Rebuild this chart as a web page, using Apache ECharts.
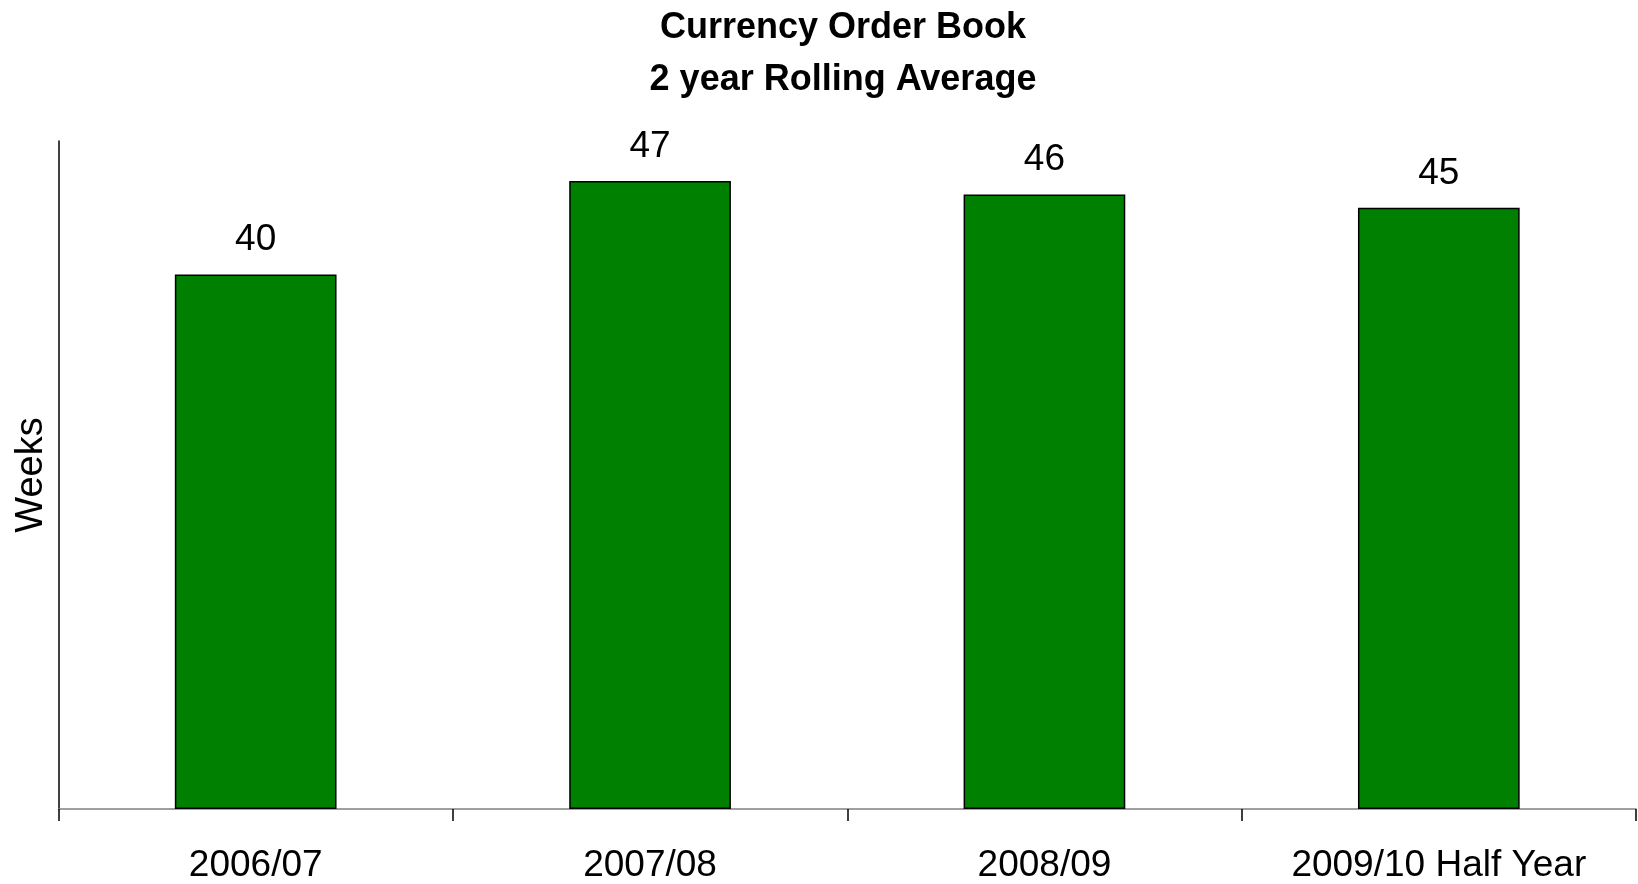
<!DOCTYPE html>
<html>
<head>
<meta charset="utf-8">
<title>Currency Order Book</title>
<script src="https://cdn.jsdelivr.net/npm/echarts@6/dist/echarts.min.js"></script>
<style>
  html, body { margin: 0; padding: 0; background: #ffffff; }
  #chart { width: 1638px; height: 884px; }
</style>
</head>
<body>
<div id="chart"></div>
<script>
// Order book length (weeks), two-year rolling average per financial year
const categories = ['2006/07', '2007/08', '2008/09', '2009/10 Half Year'];
const weeks = [40, 47, 46, 45];
const titleLines = ['Currency Order Book', '2 year Rolling Average'];
const yAxisName = 'Weeks';

const FONT = '"Liberation Sans", Arial, Helvetica, sans-serif';

const chart = echarts.init(document.getElementById('chart'), null, { renderer: 'canvas' });

chart.setOption({
  backgroundColor: '#ffffff',
  animation: false,
  // two-line heading, centred a little right of the page middle
  graphic: [{
    type: 'text',
    left: null,
    style: {
      x: 843,
      y: 2,
      text: titleLines.join('\n'),
      align: 'center',
      verticalAlign: 'top',
      fontFamily: FONT,
      fontWeight: 'bold',
      fontSize: 36,
      lineHeight: 52,
      fill: '#000000'
    }
  }],
  grid: {
    left: 58.5,
    right: 2,
    top: 141,
    bottom: 75,
    containLabel: false
  },
  xAxis: {
    type: 'category',
    data: categories,
    boundaryGap: true,
    axisLine: { show: true, lineStyle: { color: '#808080', width: 1.5 } },
    axisTick: { show: true, length: 12, lineStyle: { color: '#000000', width: 1.5 } },
    axisLabel: {
      margin: 38,
      fontFamily: FONT,
      fontSize: 37,
      color: '#000000'
    },
    splitLine: { show: false }
  },
  yAxis: {
    type: 'value',
    min: 0,
    max: 50,
    name: yAxisName,
    nameLocation: 'middle',
    nameGap: 8,
    nameTextStyle: {
      fontFamily: FONT,
      fontSize: 38,
      color: '#000000'
    },
    axisLine: { show: true, lineStyle: { color: '#000000', width: 1.5 } },
    axisTick: { show: false },
    axisLabel: { show: false },
    splitLine: { show: false }
  },
  series: [{
    type: 'bar',
    data: weeks,
    barWidth: '41%',
    itemStyle: {
      color: '#008000',
      borderColor: '#000000',
      borderWidth: 1.5
    },
    label: {
      show: true,
      position: 'top',
      distance: 16,
      fontFamily: FONT,
      fontSize: 37,
      color: '#000000'
    }
  }]
});
</script>
</body>
</html>
